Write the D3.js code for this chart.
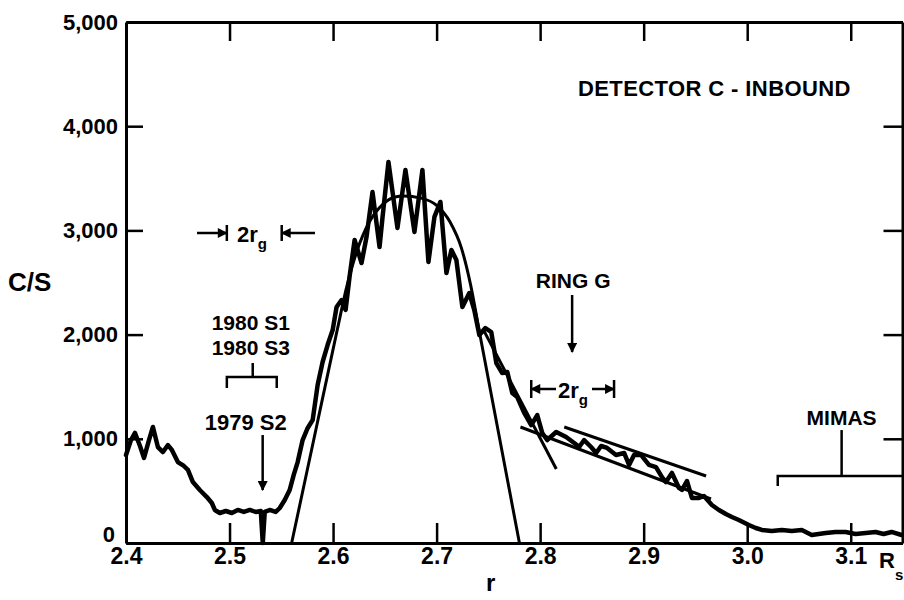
<!DOCTYPE html>
<html>
<head>
<meta charset="utf-8">
<script src="https://cdn.jsdelivr.net/npm/d3@7"></script>
<style>
  body { margin: 0; background: #fff; }
  text { font-family: "Liberation Sans", Arial, sans-serif; font-weight: bold; fill: #000; }
</style>
</head>
<body>
<svg id="chart" width="904" height="600"></svg>
<script>
// measured count rate, detector C inbound (r in Saturn radii, c/s)
const radius = [2.400, 2.4048, 2.4087, 2.4135, 2.4174, 2.4222, 2.4260, 2.4308, 2.4357, 2.4405,
  2.4443, 2.4501, 2.4559, 2.4598, 2.4646, 2.4713, 2.4781, 2.4829, 2.4858, 2.4906,
  2.4964, 2.5022, 2.5080, 2.5138, 2.5196, 2.5254, 2.5302, 2.5321, 2.5340, 2.5388,
  2.5446, 2.5485, 2.5533, 2.5581, 2.5620, 2.5658, 2.5706, 2.5755, 2.5803, 2.5851,
  2.5899, 2.5947, 2.5996, 2.6034, 2.6082, 2.6121, 2.6159, 2.6208, 2.6275, 2.6323,
  2.6381, 2.6449, 2.6478, 2.6535, 2.6622, 2.6699, 2.6786, 2.6863, 2.6921, 2.6979,
  2.7037, 2.7095, 2.7143, 2.7191, 2.7249, 2.7316, 2.7364, 2.7413, 2.7471, 2.7528,
  2.7577, 2.7634, 2.7683, 2.7731, 2.7779, 2.7846, 2.7914, 2.7972, 2.8020, 2.8068,
  2.8155, 2.8251, 2.8329, 2.8377, 2.8425, 2.8492, 2.8541, 2.8589, 2.8647, 2.8733,
  2.8811, 2.8859, 2.8907, 2.8974, 2.9051, 2.9119, 2.9177, 2.9215, 2.9273, 2.9341,
  2.9370, 2.9418, 2.9466, 2.9534, 2.9582, 2.9659, 2.9727, 2.9794, 2.9852, 2.9919,
  3.0016, 3.0083, 3.0141, 3.0237, 3.0334, 3.0430, 3.0527, 3.0623, 3.0690, 3.0758,
  3.0854, 3.0951, 3.1047, 3.1144, 3.1240, 3.1317, 3.1394, 3.1491];
const counts = [845, 988, 1056, 931, 816, 988, 1113, 921, 873, 940,
  893, 777, 739, 701, 585, 509, 441, 384, 317, 288,
  307, 288, 317, 298, 317, 298, 307, 0, 298, 317,
  298, 336, 413, 509, 653, 777, 988, 1104, 1180, 1516,
  1737, 1900, 2044, 2265, 2332, 2236, 2553, 2908, 2687, 2937,
  3369, 2841, 3129, 3656, 3023, 3580, 2985, 3580, 2697, 3129,
  3273, 2591, 2812, 2716, 2265, 2399, 2236, 1996, 2063, 2025,
  1727, 1631, 1641, 1440, 1401, 1248, 1132, 1228, 1056, 988,
  1065, 1017, 960, 921, 988, 921, 864, 931, 912, 845,
  864, 749, 845, 845, 749, 729, 633, 585, 672, 528,
  509, 595, 432, 432, 451, 365, 317, 278, 250, 221,
  173, 144, 125, 115, 125, 115, 125, 77, 86, 96,
  106, 106, 86, 96, 106, 86, 106, 77];

// smooth model profile of the peak
const fitRadius = [2.560, 2.582, 2.604, 2.613, 2.623, 2.635, 2.648, 2.660, 2.668,
  2.685, 2.700, 2.713, 2.724, 2.733, 2.741, 2.7605, 2.780];
const fitCounts = [0, 1022, 2044, 2450, 2800, 3080, 3250, 3320, 3330,
  3310, 3240, 3080, 2830, 2470, 2044, 1022, 0];

// straight tangents near ring G: [r0, c0, r1, c1]
const tangents = [
  [2.745, 2050, 2.8156, 710],
  [2.781, 1113, 2.965, 422],
  [2.8233, 1113, 2.9603, 643]
];

const xTicks = [2.4, 2.5, 2.6, 2.7, 2.8, 2.9, 3.0, 3.1];
const yTicks = [0, 1000, 2000, 3000, 4000, 5000];

const svg = d3.select("#chart");
svg.append("rect").attr("width", 904).attr("height", 600).attr("fill", "#fff");

const x = d3.scaleLinear().domain([2.4, 3.15]).range([126, 902.5]);
const y = d3.scaleLinear().domain([0, 5000]).range([543, 22]);

// arrow head marker
svg.append("defs").append("marker")
  .attr("id", "head")
  .attr("viewBox", "0 0 10 10")
  .attr("refX", 9).attr("refY", 5)
  .attr("markerUnits", "userSpaceOnUse")
  .attr("markerWidth", 12).attr("markerHeight", 10)
  .attr("orient", "auto")
  .append("path").attr("d", "M0,0L10,5L0,10Z").attr("fill", "#000");

// axes, ticks pointing inward
const fmt = d3.format(".1f");
const gx = svg.append("g").attr("transform", "translate(0,543)")
  .call(d3.axisBottom(x).tickValues(xTicks).tickFormat(fmt).tickSizeInner(-20).tickSizeOuter(0).tickPadding(5));
const gxt = svg.append("g").attr("transform", "translate(0,22)")
  .call(d3.axisTop(x).tickValues(xTicks.slice(1)).tickFormat("").tickSizeInner(-19).tickSizeOuter(0));
const gy = svg.append("g").attr("transform", "translate(126,0)")
  .call(d3.axisLeft(y).tickValues(yTicks).tickFormat(d3.format(",")).tickSizeInner(-17).tickSizeOuter(0).tickPadding(8));
const gyr = svg.append("g").attr("transform", "translate(902.5,0)")
  .call(d3.axisRight(y).tickValues(yTicks.slice(1, 5)).tickFormat("").tickSizeInner(-19).tickSizeOuter(0));

[gx, gxt, gy, gyr].forEach(g => {
  g.select(".domain").attr("stroke", "#000").attr("stroke-width", 3);
  g.selectAll(".tick line").attr("stroke", "#000").attr("stroke-width", 2.5);
  g.selectAll(".tick text").style("font-size", "22px").attr("fill", "#000");
});
gx.selectAll(".tick text").style("font-size", "23px");
gy.selectAll(".tick text").filter(d => d === 0).attr("y", -9).attr("x", -11);

// axis titles
svg.append("text").attr("x", 8).attr("y", 291).style("font-size", "26px").text("C/S");
svg.append("text").attr("x", 486).attr("y", 591).style("font-size", "24px").text("r");
const rs = svg.append("text").attr("x", 879).attr("y", 568).style("font-size", "22px");
rs.append("tspan").text("R");
rs.append("tspan").attr("dy", 12).style("font-size", "15px").text("s");

// model curve
const fitLine = d3.line().x((d, i) => x(fitRadius[i])).y(d => y(d)).curve(d3.curveMonotoneX);
svg.append("path").datum(fitCounts)
  .attr("d", fitLine).attr("fill", "none").attr("stroke", "#000").attr("stroke-width", 3);

// tangents
svg.selectAll(".tangent").data(tangents).join("line")
  .attr("x1", d => x(d[0])).attr("y1", d => y(d[1]))
  .attr("x2", d => x(d[2])).attr("y2", d => y(d[3]))
  .attr("stroke", "#000").attr("stroke-width", 3);

// measured curve
const dataLine = d3.line().x((d, i) => x(radius[i])).y(d => y(d));
svg.append("path").datum(counts)
  .attr("d", dataLine).attr("fill", "none").attr("stroke", "#000")
  .attr("stroke-width", 4.5).attr("stroke-linejoin", "round").attr("stroke-linecap", "round");

// annotations
function seg(x1, y1, x2, y2, arrow) {
  const l = svg.append("line").attr("x1", x1).attr("y1", y1).attr("x2", x2).attr("y2", y2)
    .attr("stroke", "#000").attr("stroke-width", 2.5);
  if (arrow) l.attr("marker-end", "url(#head)");
}
function label(tx, ty, s, size, anchor) {
  return svg.append("text").attr("x", tx).attr("y", ty).attr("text-anchor", anchor || "start")
    .style("font-size", (size || 22) + "px").text(s);
}
function twoRg(tx, ty) {
  const t = label(tx, ty, "2r");
  t.append("tspan").attr("dy", 7).style("font-size", "15px").text("g");
}

svg.append("text").attr("x", 578).attr("y", 96).style("font-size", "22px")
  .style("letter-spacing", "0.4px").text("DETECTOR C  -  INBOUND");

// 2 r_g width marker, upper left
const yw = y(2975);
seg(197, yw, x(2.4974), yw, true);
seg(x(2.4974), yw - 8, x(2.4974), yw + 8);
seg(315, yw, x(2.5504), yw, true);
seg(x(2.5504), yw - 8, x(2.5504), yw + 8);
twoRg(237, yw + 9);

// satellites 1980 S1 / S3 and 1979 S2
label(x(2.5205), y(2044), "1980 S1", 21, "middle");
label(x(2.5205), y(1804), "1980 S3", 21, "middle");
svg.append("path")
  .attr("d", `M${x(2.4974)},${y(1488)}V${y(1593)}H${x(2.5456)}V${y(1488)}M${x(2.5224)},${y(1593)}V${y(1727)}`)
  .attr("fill", "none").attr("stroke", "#000").attr("stroke-width", 2.5);
label(x(2.5157), y(1084), "1979 S2", 22, "middle");
seg(x(2.532), y(1036), x(2.532), y(509), true);

// ring G
label(x(2.8319), y(2447), "RING G", 21, "middle");
seg(x(2.8309), y(2380), x(2.8309), y(1833), true);
const yg = y(1478);
seg(x(2.7914), yg - 9, x(2.7914), yg + 9);
seg(x(2.8714), yg - 9, x(2.8714), yg + 9);
seg(556, yg, x(2.7914), yg, true);
seg(592, yg, x(2.8714), yg, true);
twoRg(558, yg + 9);

// Mimas
label(x(3.0912), y(1132), "MIMAS", 21, "middle");
seg(x(3.0912), y(1084), x(3.0912), y(643));
svg.append("path")
  .attr("d", `M${x(3.0295)},${y(547)}V${y(643)}H${x(3.15)}`)
  .attr("fill", "none").attr("stroke", "#000").attr("stroke-width", 2.5);
</script>
</body>
</html>
